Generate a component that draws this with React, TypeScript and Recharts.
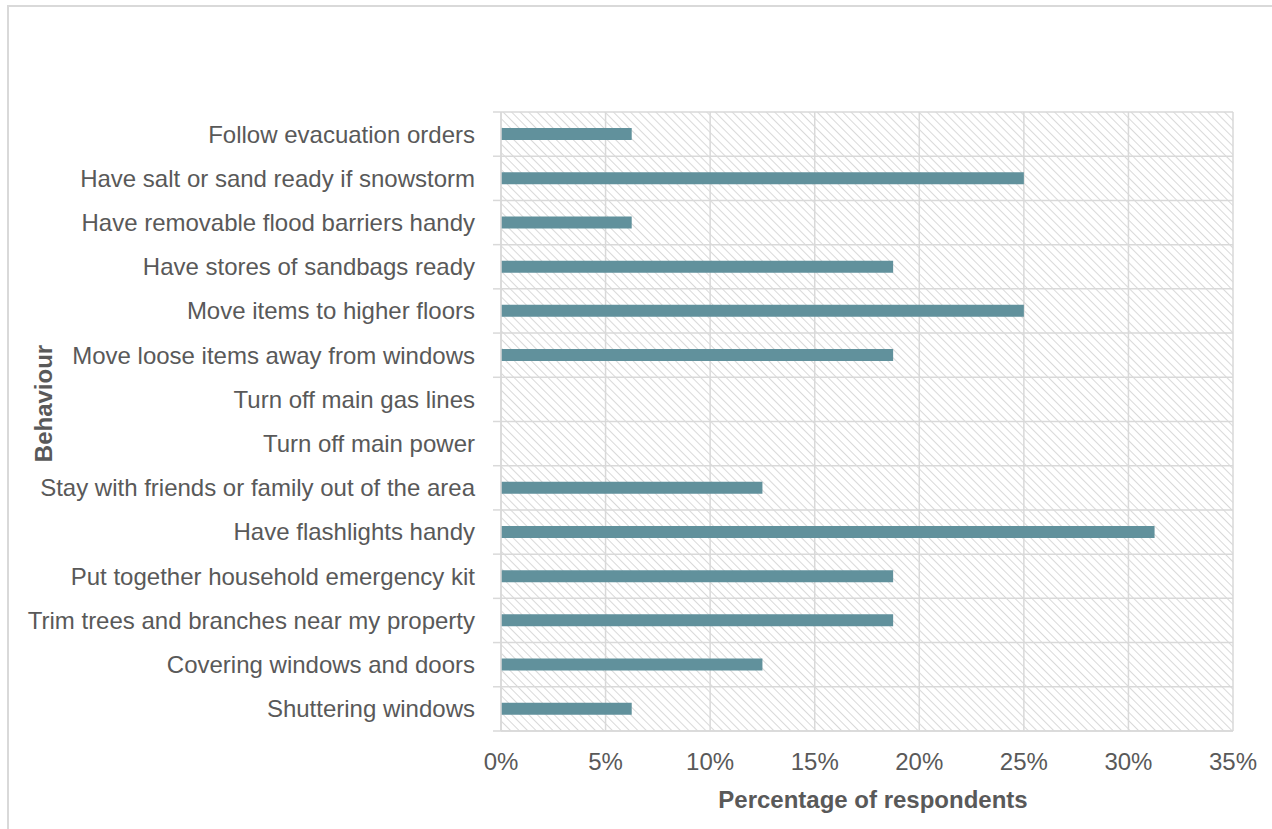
import React from 'react';
import { BarChart, Bar, XAxis, YAxis, CartesianGrid } from 'recharts';

const behaviours = [
  'Follow evacuation orders',
  'Have salt or sand ready if snowstorm',
  'Have removable flood barriers handy',
  'Have stores of sandbags ready',
  'Move items to higher floors',
  'Move loose items away from windows',
  'Turn off main gas lines',
  'Turn off main power',
  'Stay with friends or family out of the area',
  'Have flashlights handy',
  'Put together household emergency kit',
  'Trim trees and branches near my property',
  'Covering windows and doors',
  'Shuttering windows',
];

const percentages = [6.25, 25, 6.25, 18.75, 25, 18.75, 0, 0, 12.5, 31.25, 18.75, 18.75, 12.5, 6.25];

const xTicks = [0, 5, 10, 15, 20, 25, 30, 35];

const data = behaviours.map((name, i) => ({ name, value: percentages[i] }));

const FONT = '"Liberation Sans", Arial, sans-serif';
const TEXT = '#595959';
const GRID = '#d9d9d9';
const FS = 24;

function CategoryTick(props: any) {
  const { x, y, payload, index } = props;
  const half = payload.offset || 0;
  return (
    <g>
      <line x1={x + 18} x2={x + 26} y1={y - half} y2={y - half} stroke={GRID} strokeWidth={1.5} />
      {index === behaviours.length - 1 && (
        <line x1={x + 18} x2={x + 26} y1={y + half} y2={y + half} stroke={GRID} strokeWidth={1.5} />
      )}
      <text x={x} y={y} dy="0.35em" textAnchor="end" fill={TEXT} fontSize={FS} fontFamily={FONT}>
        {payload.value}
      </text>
    </g>
  );
}

export default function App() {
  return (
    <div style={{ position: 'absolute', left: 0, top: 0, width: 1272, height: 829, overflow: 'hidden', background: '#fff' }}>
      <div
        style={{
          position: 'absolute',
          left: 7,
          top: 5,
          width: 1280,
          height: 840,
          borderLeft: `2px solid ${GRID}`,
          borderTop: `2px solid ${GRID}`,
        }}
      />
      <div style={{ position: 'absolute', left: 0, top: 0 }}>
        <BarChart
          width={1272}
          height={829}
          data={data}
          layout="vertical"
          margin={{ top: 112, right: 39, bottom: 0, left: 0 }}
          barSize={12}
        >
          <defs>
            <pattern id="hatch" width={6} height={6} patternUnits="userSpaceOnUse" patternTransform="rotate(-45)">
              <line x1={0} y1={0} x2={0} y2={6} stroke={GRID} strokeWidth={2} />
            </pattern>
          </defs>
          <CartesianGrid
            fill="url(#hatch)"
            fillOpacity={1}
            stroke={GRID}
            strokeWidth={1.5}
            horizontalCoordinatesGenerator={({ offset }: any) =>
              behaviours.map((_, i) => offset.top + (i * offset.height) / behaviours.length).concat(offset.top + offset.height)
            }
          />
          <XAxis
            type="number"
            domain={[0, 35]}
            ticks={xTicks}
            tickFormatter={(v: number) => `${v}%`}
            height={98}
            tickLine={false}
            tickSize={0}
            tickMargin={22}
            axisLine={{ stroke: GRID, strokeWidth: 1.5 }}
            tick={{ fill: TEXT, fontSize: FS, fontFamily: FONT }}
            label={{
              content: ({ viewBox }: any) => (
                <text
                  x={viewBox.x + viewBox.width / 2 + 6}
                  y={800}
                  dy="0.35em"
                  textAnchor="middle"
                  fill={TEXT}
                  fontSize={FS}
                  fontWeight="bold"
                  fontFamily={FONT}
                >
                  Percentage of respondents
                </text>
              ),
            }}
          />
          <YAxis
            type="category"
            dataKey="name"
            width={501}
            tickLine={false}
            tickSize={8}
            tickMargin={18}
            interval={0}
            axisLine={{ stroke: GRID, strokeWidth: 1.5 }}
            tick={<CategoryTick />}
            label={{
              content: ({ viewBox }: any) => {
                const cy = viewBox.y + viewBox.height / 2 - 18;
                return (
                  <text
                    x={44}
                    y={cy}
                    dy="0.35em"
                    textAnchor="middle"
                    transform={`rotate(-90, 44, ${cy})`}
                    fill={TEXT}
                    fontSize={FS}
                    fontWeight="bold"
                    fontFamily={FONT}
                  >
                    Behaviour
                  </text>
                );
              },
            }}
          />
          <Bar dataKey="value" fill="#61919c" isAnimationActive={false} />
        </BarChart>
      </div>
    </div>
  );
}
